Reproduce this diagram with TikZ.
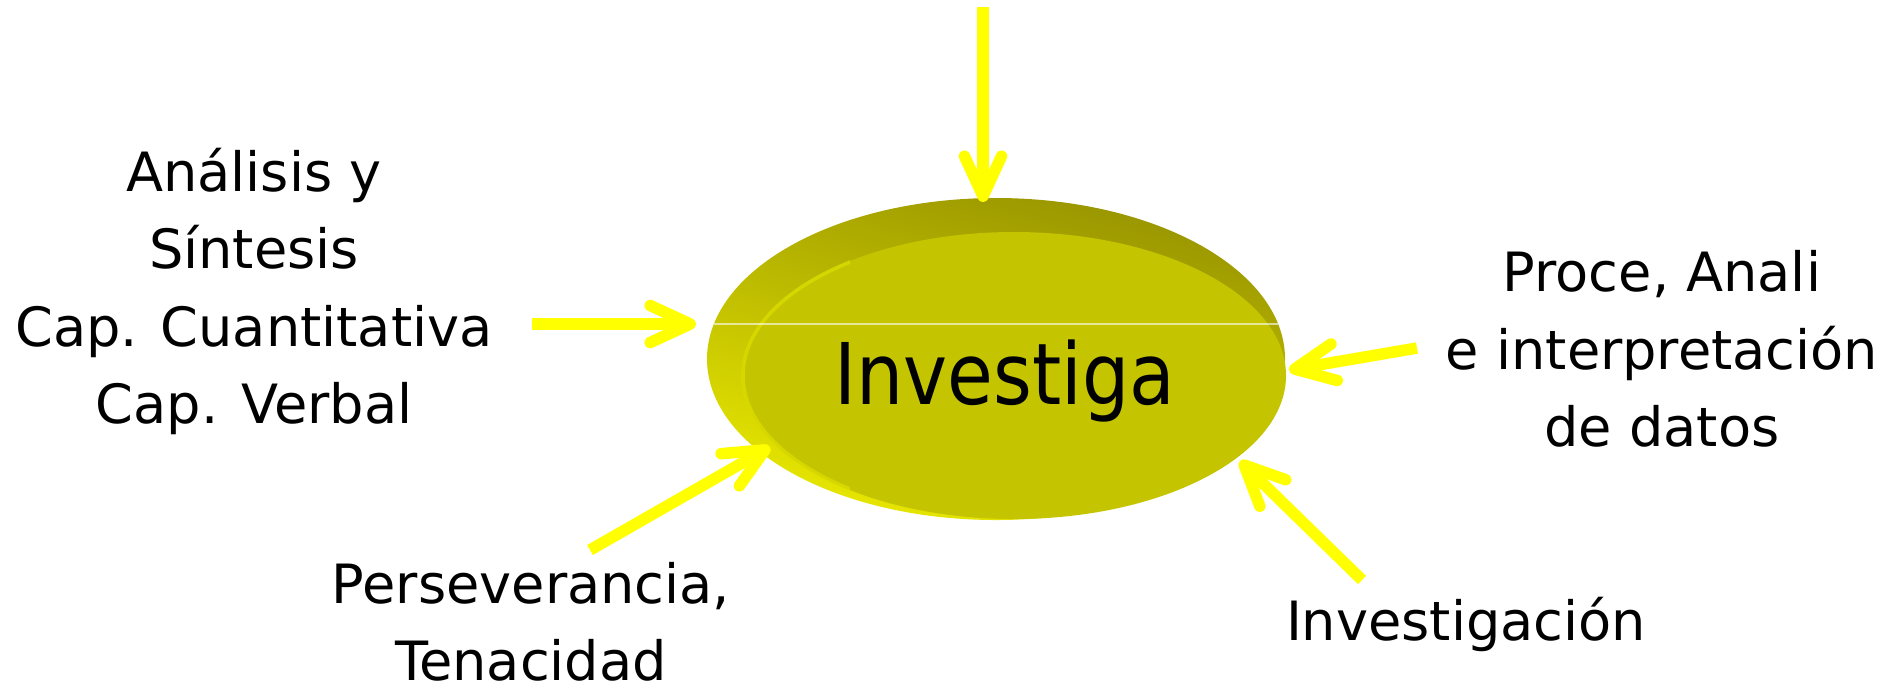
\documentclass[tikz,border=0pt]{standalone}
\usepackage{fontspec}
\setmainfont{DejaVu Sans}
\newfontfamily\innerfont[FakeStretch=0.875]{DejaVu Sans}
\usetikzlibrary{arrows.meta}
\definecolor{arr}{RGB}{255,255,0}
\definecolor{face}{RGB}{196,196,0}
\definecolor{rimdark}{RGB}{152,148,0}
\definecolor{rimlight}{RGB}{232,232,0}
\definecolor{edgehi}{RGB}{220,220,0}
\tikzset{
  lbl/.style={font=\fontsize{15.4}{21.9}\selectfont, align=center, inner sep=0pt, anchor=base},
  feed/.style={draw=arr, line width=0.115cm, -{Straight Barb[length=0.40cm, width=0.37cm, round]}},
}
\begin{document}
\begin{tikzpicture}[x=0.01cm,y=-0.01cm]
\useasboundingbox (0,0) rectangle (1903,690);
\fill[white] (0,0) rectangle (1903,690);
% disc
\shade[top color=rimdark, bottom color=rimlight, shading angle=-15] (996,359) ellipse [x radius=289, y radius=161];
\fill[face] (1014,375.5) ellipse [x radius=272, y radius=143.5];
\begin{scope}
  \clip (700,230) rectangle (850,520);
  \draw[edgehi, opacity=0.8, line width=0.035cm] (1014,375.5) ellipse [x radius=271, y radius=142.5];
\end{scope}
\draw[white, opacity=0.6, line width=0.015cm] (714,324) -- (1278,324);
% labels (anchor base = last line)
\node[lbl] (left) at (254,423) {Análisis y\\Síntesis\\Cap. Cuantitativa\\Cap. Verbal};
\node[lbl] (right) at (1662,446) {Proce, Anali\\e interpretación\\de datos};
\node[lbl] (botl) at (531,680) {Perseverancia,\\Tenacidad};
\node[lbl] (botr) at (1466,640) {Investigación};
\node[font=\innerfont\fontsize{24.2}{29}\selectfont, inner sep=0pt, anchor=base] (inv) at (1005,404) {Investiga};
% arrows
\coordinate (topT) at (983,7);    \coordinate (topH) at (983,202);
\coordinate (leftT) at (532,324); \coordinate (leftH) at (696,324);
\coordinate (blT) at (590,550);   \coordinate (blH) at (770,447);
\coordinate (rT) at (1417,348);   \coordinate (rH) at (1289,370);
\coordinate (brT) at (1362,580);  \coordinate (brH) at (1240,461);
\draw[feed] (topT) -- (topH);
\draw[feed] (leftT) -- (leftH);
\draw[feed] (blT) -- (blH);
\draw[feed] (rT) -- (rH);
\draw[feed] (brT) -- (brH);
\end{tikzpicture}
\end{document}
